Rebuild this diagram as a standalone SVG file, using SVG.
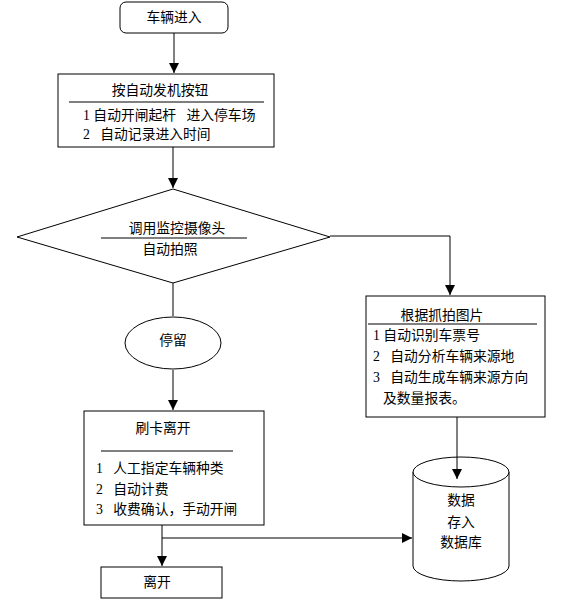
<svg xmlns="http://www.w3.org/2000/svg" width="564" height="602" viewBox="0 0 564 602">
<defs>
<marker id="arr" markerWidth="10" markerHeight="10" refX="10" refY="5" orient="auto" markerUnits="userSpaceOnUse">
<path d="M0,0 L10,5 L0,10 Z" fill="#000"/>
</marker>
<style>
.s{fill:#fff;stroke:#000;stroke-width:1}
.ln{fill:none;stroke:#000;stroke-width:1}
.c{fill:none;stroke:#000;stroke-width:1;marker-end:url(#arr)}
text{font-family:"Liberation Serif","Noto Sans CJK SC",serif;font-size:13.8px;fill:#000}
.m{text-anchor:middle}
</style>
</defs>
<rect width="564" height="602" fill="#fff"/>
<g id="connectors">
<path class="c" d="M174,33 V73"/>
<path class="c" d="M173,147 V188"/>
<path class="ln" d="M173,283 V316"/>
<path class="c" d="M330,236 H450 V295"/>
<path class="c" d="M173,370 V410"/>
<path class="c" d="M162,525 V566"/>
<path class="c" d="M162,538 H412"/>
</g>
<g id="start">
<rect class="s" x="120" y="2" width="108" height="31" rx="6"/>
<text class="m" x="174" y="22">车辆进入</text>
</g>
<g id="button">
<rect class="s" x="58" y="74" width="216" height="73"/>
<text class="m" x="160" y="95">按自动发机按钮</text>
<line class="ln" x1="69" y1="102" x2="264" y2="102"/>
<text x="83" y="120" xml:space="preserve">1 自动开闸起杆   进入停车场</text>
<text x="83" y="139" xml:space="preserve">2   自动记录进入时间</text>
</g>
<g id="camera">
<polygon class="s" points="17,237 173,189 330,237 173,283"/>
<text class="m" x="177" y="233">调用监控摄像头</text>
<line class="ln" x1="101" y1="238" x2="247" y2="238"/>
<text class="m" x="170" y="254">自动拍照</text>
</g>
<g id="stay">
<ellipse class="s" cx="173" cy="343" rx="48" ry="26"/>
<text class="m" x="173" y="345">停留</text>
</g>
<g id="recognize">
<rect class="s" x="366" y="296" width="179" height="121"/>
<text class="m" x="442" y="320">根据抓拍图片</text>
<line class="ln" x1="368" y1="324" x2="537" y2="324"/>
<text x="373" y="340">1 自动识别车票号</text>
<text x="373" y="361" xml:space="preserve">2   自动分析车辆来源地</text>
<text x="373" y="382" xml:space="preserve">3   自动生成车辆来源方向</text>
<text x="383" y="403">及数量报表。</text>
</g>
<g id="card">
<rect class="s" x="84" y="411" width="180" height="114"/>
<text class="m" x="163" y="433">刷卡离开</text>
<line class="ln" x1="101" y1="451" x2="233" y2="451"/>
<text x="96" y="473" xml:space="preserve">1   人工指定车辆种类</text>
<text x="96" y="494" xml:space="preserve">2   自动计费</text>
<text x="96" y="514" xml:space="preserve">3   收费确认，手动开闸</text>
</g>
<g id="leave">
<rect class="s" x="101" y="567" width="121" height="31"/>
<text class="m" x="157" y="587">离开</text>
</g>
<g id="database">
<path class="s" d="M413,472 V566 A48,15 0 0 0 509,566 V472"/>
<ellipse class="s" cx="461" cy="472" rx="48" ry="15"/>
<path class="c" d="M457,417 V479"/>
<text class="m" x="461" y="505">数据</text>
<text class="m" x="461" y="527">存入</text>
<text class="m" x="461" y="547">数据库</text>
</g>
</svg>
